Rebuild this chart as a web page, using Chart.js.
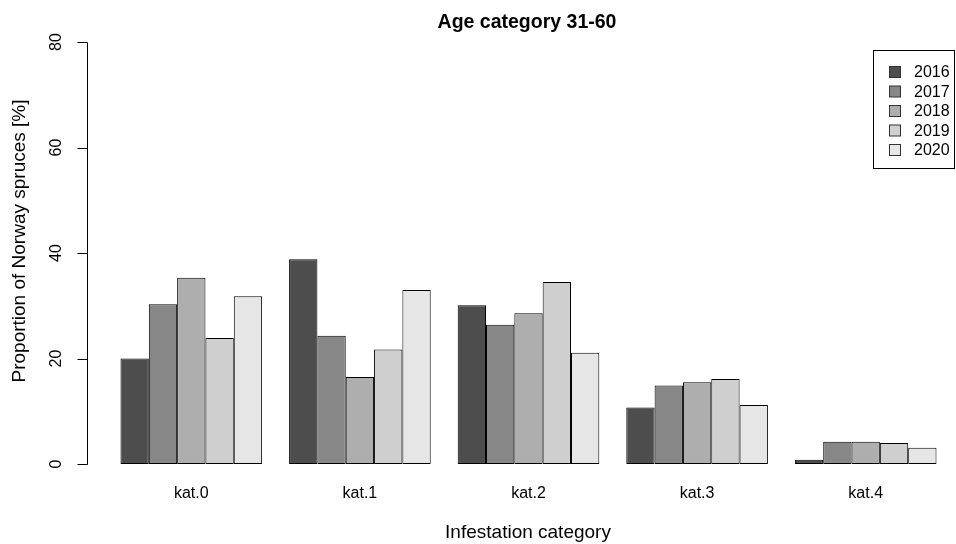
<!DOCTYPE html>
<html>
<head>
<meta charset="utf-8">
<script src="https://cdn.jsdelivr.net/npm/chart.js@4/dist/chart.umd.min.js"></script>
<style>
  html, body { margin: 0; padding: 0; background: #fff; }
  #wrap { width: 956px; height: 544px; }
</style>
</head>
<body>
<div id="wrap"><canvas id="ageChart" width="956" height="544"></canvas></div>
<script>
// Data
const categories = ["kat.0", "kat.1", "kat.2", "kat.3", "kat.4"];
const years = ["2016", "2017", "2018", "2019", "2020"];
const v2016 = [20.0, 38.8, 30.1, 10.7, 0.8];
const v2017 = [30.3, 24.3, 26.4, 14.9, 4.2];
const v2018 = [35.3, 16.5, 28.6, 15.5, 4.2];
const v2019 = [23.9, 21.7, 34.5, 16.1, 4.0];
const v2020 = [31.8, 33.0, 21.1, 11.2, 3.1];
const yTicks = [0, 20, 40, 60, 80];

const greys = ["#4D4D4D", "#878787", "#AEAEAE", "#CFCFCF", "#E6E6E6"];
const series = [v2016, v2017, v2018, v2019, v2020];

const FONT = "Liberation Sans, Arial, sans-serif";

// R-style axes, titles and boxed legend
const rDecor = {
  id: "rDecor",
  afterDraw(chart) {
    const { ctx, scales } = chart;
    const x = scales.x, y = scales.y;
    const axisX = 87;
    ctx.save();
    ctx.fillStyle = "#000";
    ctx.strokeStyle = "#000";
    ctx.lineWidth = 1;

    // y axis line + ticks
    ctx.beginPath();
    ctx.moveTo(axisX + 0.5, Math.round(y.getPixelForValue(0)) + 0.5);
    ctx.lineTo(axisX + 0.5, Math.round(y.getPixelForValue(80)) + 0.5);
    yTicks.forEach((t) => {
      const py = Math.round(y.getPixelForValue(t)) + 0.5;
      ctx.moveTo(axisX + 0.5, py);
      ctx.lineTo(axisX - 9.5, py);
    });
    ctx.stroke();

    // y tick labels (rotated like R)
    ctx.font = "16px " + FONT;
    ctx.textAlign = "center";
    ctx.textBaseline = "middle";
    yTicks.forEach((t) => {
      ctx.save();
      ctx.translate(57, y.getPixelForValue(t));
      ctx.rotate(-Math.PI / 2);
      ctx.fillText(String(t), 0, 0);
      ctx.restore();
    });

    // y title
    ctx.font = "19px " + FONT;
    ctx.save();
    ctx.translate(20, 241);
    ctx.rotate(-Math.PI / 2);
    ctx.fillText("Proportion of Norway spruces [%]", 0, 0);
    ctx.restore();

    // x category labels
    ctx.font = "16px " + FONT;
    categories.forEach((c, i) => {
      ctx.fillText(c, x.getPixelForValue(i), 494);
    });

    // x title
    ctx.font = "19px " + FONT;
    ctx.fillText("Infestation category", 528, 533);

    // main title
    ctx.font = "bold 19.5px " + FONT;
    ctx.fillText("Age category 31-60", 527, 23);

    // legend
    ctx.strokeStyle = "#000";
    ctx.strokeRect(873.5, 50.5, 81, 118);
    ctx.font = "16px " + FONT;
    ctx.textAlign = "left";
    chart.data.datasets.forEach((ds, i) => {
      const cy = 72 + i * 19.5;
      ctx.fillStyle = ds.backgroundColor;
      ctx.fillRect(889.5, cy - 5.5, 11, 11);
      ctx.strokeStyle = "#333";
      ctx.strokeRect(889.5, cy - 5.5, 11, 11);
      ctx.fillStyle = "#000";
      ctx.fillText(ds.label, 914, cy + 1);
    });
    ctx.restore();
  },
};

const ctx = document.getElementById("ageChart").getContext("2d");
new Chart(ctx, {
  type: "bar",
  data: {
    labels: categories,
    datasets: years.map((yr, i) => ({
      label: yr,
      data: series[i],
      backgroundColor: greys[i],
      borderColor: "#000",
      borderWidth: 1,
      borderSkipped: false,
      categoryPercentage: 0.84,
      barPercentage: 1.0,
    })),
  },
  options: {
    responsive: false,
    animation: false,
    layout: { padding: { left: 107, right: 6, top: 42, bottom: 80 } },
    plugins: {
      legend: { display: false },
      title: { display: false },
      tooltip: { enabled: false },
    },
    scales: {
      x: { display: false },
      y: { display: false, min: 0, max: 80 },
    },
  },
  plugins: [rDecor],
});
</script>
</body>
</html>
